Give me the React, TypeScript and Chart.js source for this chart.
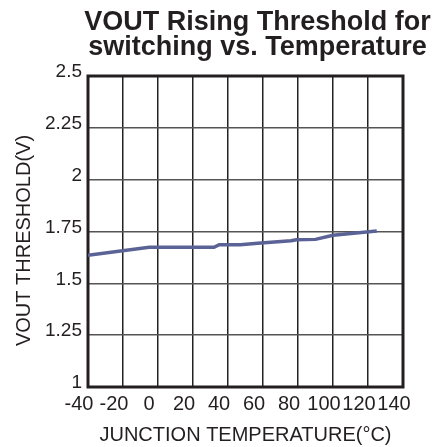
import React, { useEffect, useRef } from 'react';
import { Chart, registerables } from 'chart.js';

Chart.register(...registerables);

const temperatures = [-40, -5, 32, 35, 47, 57, 76, 79, 90, 100, 125];
const thresholds = [1.635, 1.674, 1.674, 1.686, 1.686, 1.693, 1.705, 1.71, 1.712, 1.732, 1.752];
const xTickLabels = ['-40', '-20', '0', '20', '40', '60', '80', '100', '120', '140'];
const yTickLabels = ['1', '1.25', '1.5', '1.75', '2', '2.25', '2.5'];
const titleLines = ['VOUT Rising Threshold for', 'switching vs. Temperature'];
const xAxisTitle = 'JUNCTION TEMPERATURE(°C)';
const yAxisTitle = 'VOUT THRESHOLD(V)';

const FONT = '"Liberation Sans", Arial, Helvetica, sans-serif';
const TEXT = '#231f20';

const framePlugin = {
  id: 'frame',
  beforeDatasetsDraw(chart: any) {
    const { ctx, chartArea: a } = chart;
    ctx.save();
    ctx.strokeStyle = TEXT;
    ctx.lineWidth = 3;
    ctx.strokeRect(a.left, a.top, a.right - a.left, a.bottom - a.top);
    ctx.restore();
  },
};

const textPlugin = {
  id: 'texts',
  afterDraw(chart: any) {
    const { ctx, chartArea: a } = chart;
    ctx.save();
    ctx.fillStyle = TEXT;
    ctx.font = `bold 27px ${FONT}`;
    ctx.textAlign = 'center';
    ctx.textBaseline = 'alphabetic';
    const cx = (a.left + a.right) / 2 + 12;
    ctx.fillText(titleLines[0], cx, a.top - 46);
    ctx.fillText(titleLines[1], cx, a.top - 21);
    ctx.font = `20px ${FONT}`;
    ctx.translate(24, (a.top + a.bottom) / 2 + 9);
    ctx.rotate(-Math.PI / 2);
    ctx.textBaseline = 'middle';
    ctx.fillText(yAxisTitle, 0, 0);
    ctx.restore();
  },
};

export default function App() {
  const ref = useRef<HTMLCanvasElement>(null);
  useEffect(() => {
    if (!ref.current) return;
    const chart = new Chart(ref.current, {
      type: 'line',
      data: {
        datasets: [
          {
            data: temperatures.map((t, i) => ({ x: t, y: thresholds[i] })),
            borderColor: '#5b6396',
            borderWidth: 3.5,
            pointRadius: 0,
            tension: 0,
            fill: false,
          },
        ],
      },
      options: {
        animation: false,
        responsive: false,
        layout: { padding: { top: 76, right: 43, bottom: 0, left: 0 } },
        plugins: { legend: { display: false }, tooltip: { enabled: false }, title: { display: false } },
        scales: {
          x: {
            type: 'linear',
            min: -40,
            max: 140,
            afterFit(scale: any) { scale.height = 60; },
            ticks: {
              stepSize: 20,
              color: TEXT,
              font: { family: FONT, size: 20 },
              padding: 5,
              labelOffset: -9,
              maxRotation: 0,
              autoSkip: false,
              callback: (_v: any, i: number) => xTickLabels[i],
            },
            grid: { color: '#222', lineWidth: 1.5, drawTicks: false },
            border: { display: false },
            title: {
              display: true,
              text: xAxisTitle,
              color: TEXT,
              font: { family: FONT, size: 20 },
              padding: { top: 0, bottom: 0 },
            },
          },
          y: {
            type: 'linear',
            min: 1,
            max: 2.5,
            afterFit(scale: any) { scale.width = 88; },
            ticks: {
              stepSize: 0.25,
              color: TEXT,
              font: { family: FONT, size: 19 },
              padding: 6,
              labelOffset: -4,
              autoSkip: false,
              callback: (_v: any, i: number) => yTickLabels[i],
            },
            grid: { color: '#555', lineWidth: 1.5, drawTicks: false },
            border: { display: false },
            title: { display: false },
          },
        },
      },
      plugins: [framePlugin, textPlugin],
    });
    return () => chart.destroy();
  }, []);
  return (
    <div style={{ position: 'fixed', left: 0, top: 0, width: 446, height: 447, background: '#fff' }}>
      <canvas ref={ref} width={446} height={447} />
    </div>
  );
}
